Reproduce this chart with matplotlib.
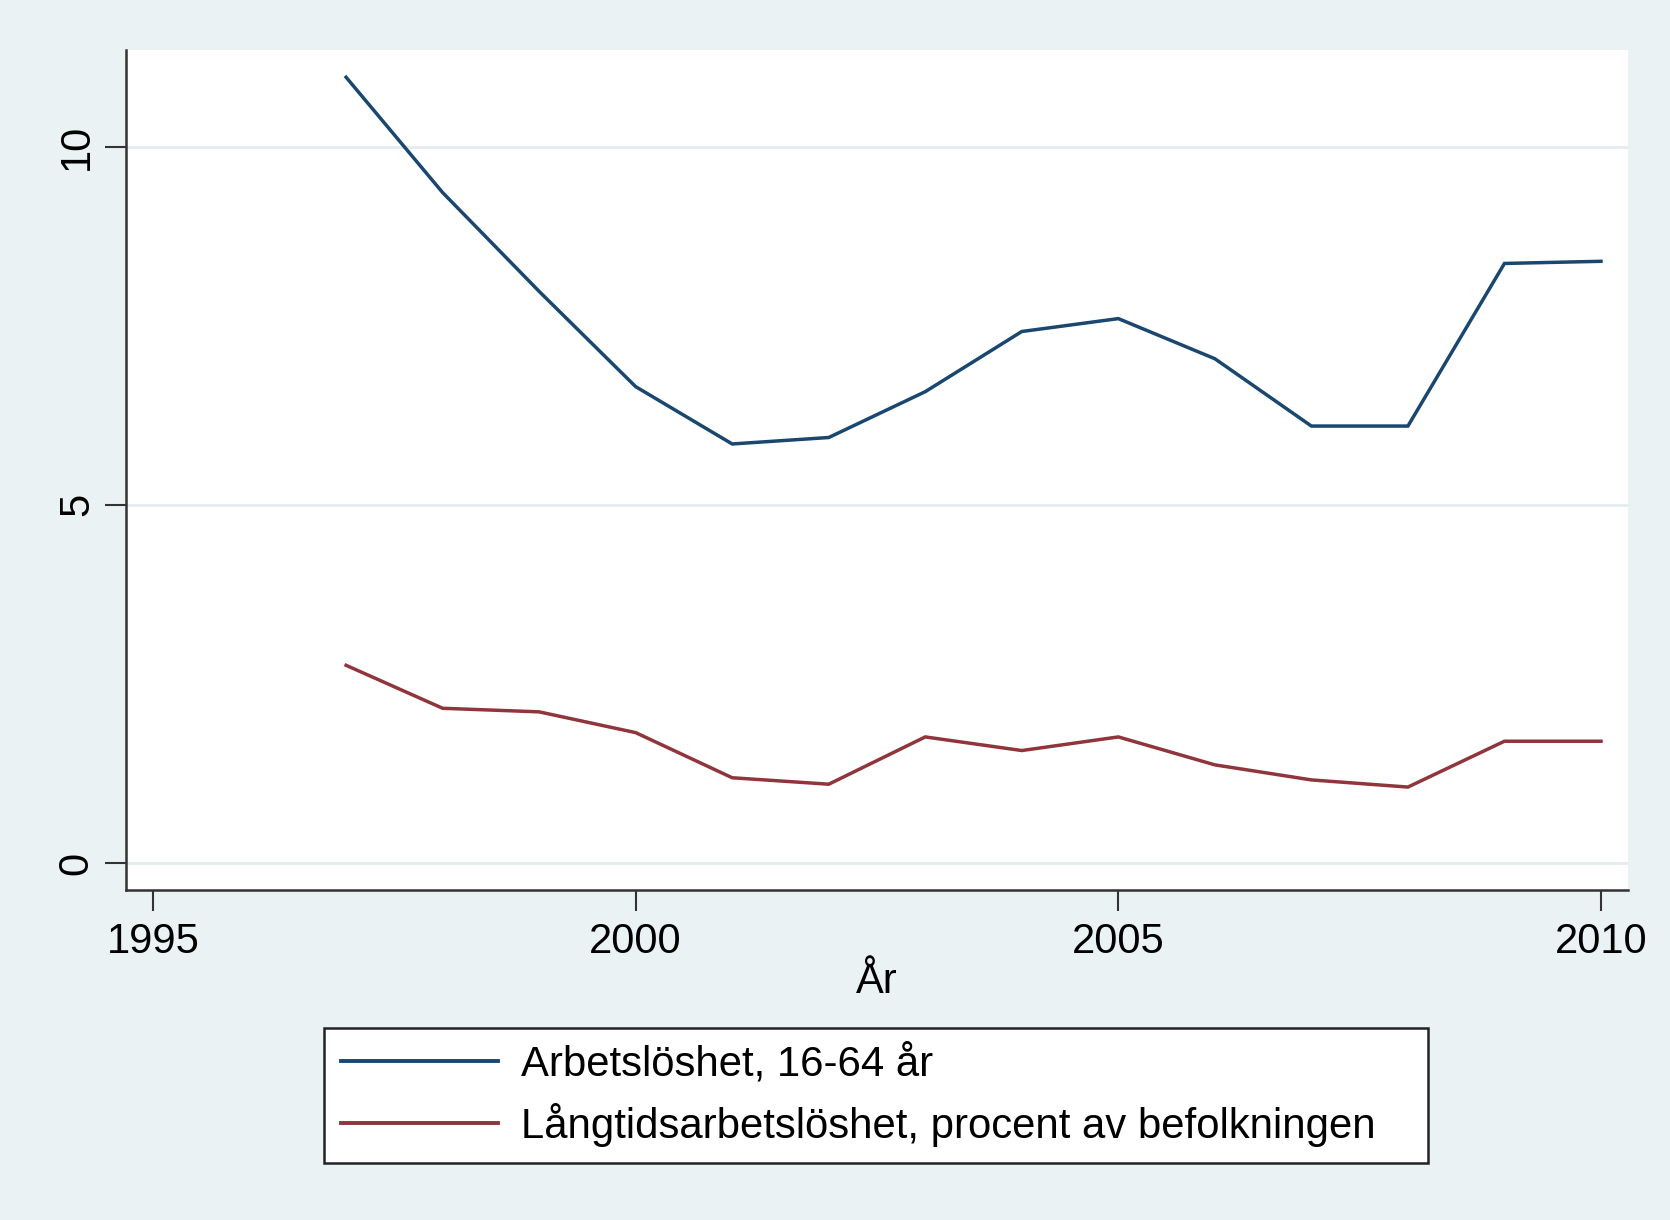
import matplotlib
matplotlib.use("Agg")
import matplotlib.pyplot as plt

plt.rcParams['font.family'] = ['Liberation Sans', 'DejaVu Sans']

years = [1997, 1998, 1999, 2000, 2001, 2002, 2003, 2004, 2005, 2006, 2007, 2008, 2009, 2010]
arbetsloshet = [10.97, 9.36, 7.98, 6.65, 5.85, 5.94, 6.58, 7.42, 7.60, 7.04, 6.10, 6.10, 8.37, 8.40]
langtid = [2.76, 2.16, 2.11, 1.82, 1.19, 1.10, 1.76, 1.57, 1.76, 1.37, 1.16, 1.06, 1.70, 1.70]
labels = ["Arbetslöshet, 16-64 år", "Långtidsarbetslöshet, procent av befolkningen"]
xticks = [1995, 2000, 2005, 2010]
yticks = [0, 5, 10]

BG = '#EAF2F3'
BLUE = '#1A476F'
RED = '#90353B'

W, H = 1670, 1220
fig = plt.figure(figsize=(W/100, H/100), dpi=100, facecolor=BG)
ax = fig.add_axes([126/W, 1-890/H, (1628-126)/W, (890-50)/H])
ax.set_facecolor('white')

ax.plot(years, arbetsloshet, color=BLUE, lw=2.5, label=labels[0], solid_joinstyle='miter')
ax.plot(years, langtid, color=RED, lw=2.5, label=labels[1], solid_joinstyle='miter')

ax.set_xlim(1994.72, 2010.28)
ax.set_ylim(-0.377, 11.35)
ax.set_xticks(xticks)
ax.set_yticks(yticks)
ax.set_yticklabels([str(t) for t in yticks], rotation=90, va='center')
ax.tick_params(axis='both', labelsize=30, length=15, width=1.5, color='#333333', pad=6)
ax.tick_params(axis='x', pad=8)
ax.grid(axis='y', color='#E3EDF0', lw=2)
ax.set_axisbelow(True)

for s in ['top', 'right']:
    ax.spines[s].set_visible(False)
for s in ['left', 'bottom']:
    ax.spines[s].set_color('#333333')
    ax.spines[s].set_linewidth(1.8)

ax.set_xlabel('År', fontsize=30, labelpad=0)

leg = fig.legend(loc='center left', bbox_to_anchor=(324/W, 1-1163/H, 1104/W, 135/H),
                 mode='expand', borderaxespad=0, fontsize=30.2, frameon=True,
                 fancybox=False, edgecolor='#222222', framealpha=1,
                 handlelength=3.75, handletextpad=0.55, labelspacing=0.42, borderpad=0.4)
leg.get_frame().set_linewidth(1.8)
for line in leg.get_lines():
    line.set_linewidth(2.8)

fig.savefig('out.png', dpi=100, facecolor=BG)
